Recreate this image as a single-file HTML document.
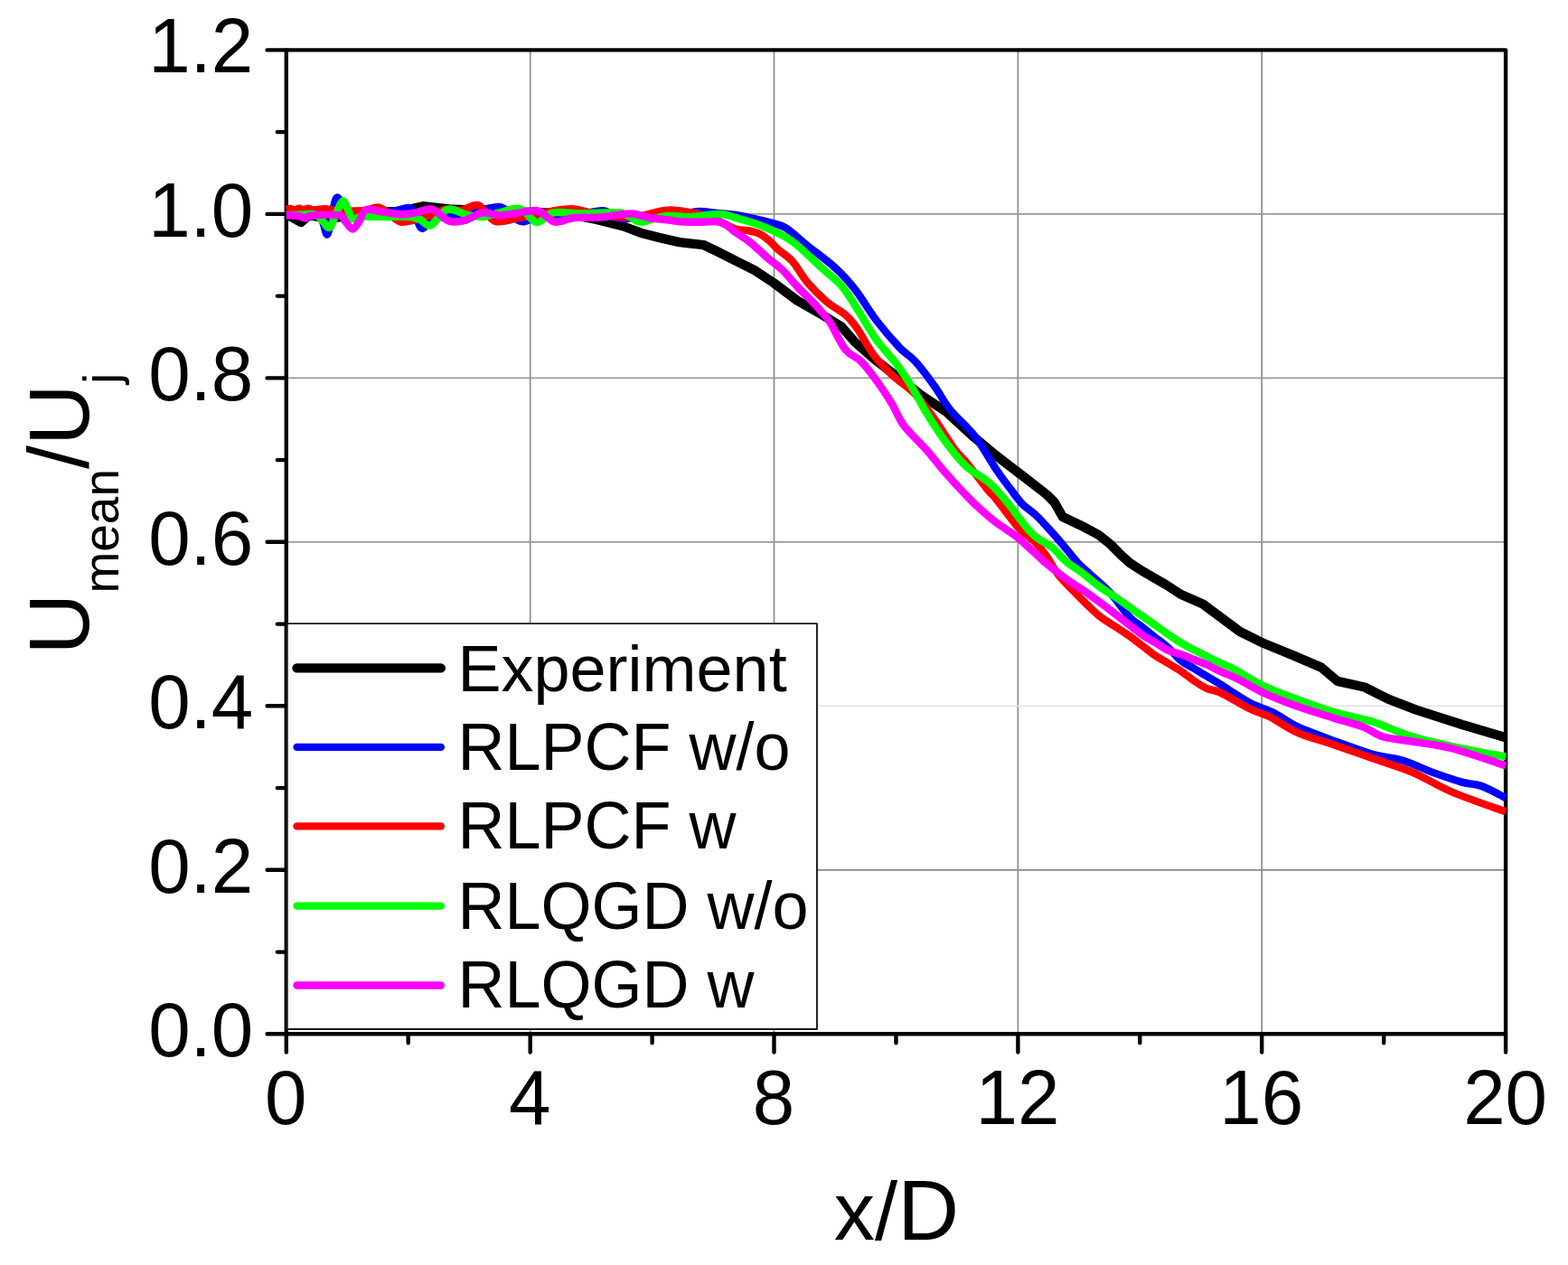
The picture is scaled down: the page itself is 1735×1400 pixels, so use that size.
<!DOCTYPE html>
<html><head><meta charset="utf-8"><title>U_mean/U_j vs x/D</title>
<style>
html,body{margin:0;padding:0;background:#fff;}
body{width:1735px;height:1400px;overflow:hidden;}
svg{display:block;}
text{font-family:"Liberation Sans",Arial,Helvetica,sans-serif;fill:#000;}
</style></head><body>
<svg width="1735" height="1400" viewBox="0 0 1735 1400">
<rect x="0" y="0" width="1735" height="1400" fill="#fff"/>
<g><line x1="586.7" y1="55.4" x2="586.7" y2="1144.3" stroke="#8f8f8f" stroke-width="1.8"/><line x1="856.5" y1="55.4" x2="856.5" y2="1144.3" stroke="#8f8f8f" stroke-width="1.8"/><line x1="1126.4" y1="55.4" x2="1126.4" y2="1144.3" stroke="#8f8f8f" stroke-width="1.8"/><line x1="1396.2" y1="55.4" x2="1396.2" y2="1144.3" stroke="#8f8f8f" stroke-width="1.8"/><line x1="316.8" y1="962.8" x2="1666.1" y2="962.8" stroke="#888" stroke-width="1.7"/><line x1="316.8" y1="781.3" x2="1666.1" y2="781.3" stroke="#e2e2e2" stroke-width="1.7"/><line x1="316.8" y1="599.9" x2="1666.1" y2="599.9" stroke="#999" stroke-width="1.7"/><line x1="316.8" y1="418.4" x2="1666.1" y2="418.4" stroke="#999" stroke-width="1.7"/><line x1="316.8" y1="236.9" x2="1666.1" y2="236.9" stroke="#999" stroke-width="1.7"/></g>
<g><rect x="316.8" y="55.4" width="1349.3" height="1088.9" fill="none" stroke="#000" stroke-width="4.4" stroke-linejoin="round"/><path d="M295.6 1144.3H316.8M295.6 962.8H316.8M295.6 781.3H316.8M295.6 599.8H316.8M295.6 418.4H316.8M295.6 236.9H316.8M295.6 55.4H316.8M306.8 1053.6H316.8M306.8 872.1H316.8M306.8 690.6H316.8M306.8 509.1H316.8M306.8 327.6H316.8M306.8 146.1H316.8M316.8 1144.3V1164.5M586.7 1144.3V1164.5M856.5 1144.3V1164.5M1126.4 1144.3V1164.5M1396.2 1144.3V1164.5M1666.1 1144.3V1164.5M451.7 1144.3V1154.3M721.6 1144.3V1154.3M991.5 1144.3V1154.3M1261.3 1144.3V1154.3M1531.2 1144.3V1154.3" stroke="#000" stroke-width="4.4" stroke-linecap="round" fill="none"/></g>
<g><path d="M316.8 237L324 241L333 246L342 238L352 240L365 241.5L378 240L395 235L420 234.5L445 234L460 230L468 228.2L497 231.4L515 232.3L543 233.7L580 234.6L620 236L640 239L660 243L690 250.5L709 257.7L729 262.9L752 268.1L779 271.2L794 278.5L814.5 288.8L835 299.2L856 313L882 332.5L910 348.6L931 361.4L946 378.6L968 397.8L996 419.3L1021 438.6L1047 455.7L1075 481.4L1102 504L1132 527L1157.8 547L1166.8 556L1175.8 572L1196.4 581.7L1215.7 592L1228.5 602.3L1241.4 615.1L1250 622.8L1264 632L1290 647L1307 658L1331 668.5L1372 699L1399 712.3L1431 725.4L1462 738.6L1480 753.9L1510 760.5L1536 773.6L1567 785.6L1618 802L1666.1 816.3" stroke="#000" stroke-width="10.4" fill="none" stroke-linejoin="round"/>
<path d="M316.8 234.5C319.8 234.6 329.2 234.8 335 235C340.8 235.2 347.8 233.7 351.5 235.4C355.2 237.1 355.2 241 357 245C358.8 249 360.4 260.2 362.1 259.4C363.8 258.6 365.2 246.8 367 240C368.8 233.2 370.2 220.3 372.7 218.8C375.2 217.3 378.6 227.9 382 230.8C385.4 233.7 388.3 235.5 393 236.4C397.7 237.3 403.9 236.2 410 236C416.1 235.8 422.7 236.4 429.9 235.4C437.1 234.4 448 229.1 453 229.9C458 230.7 457.6 236.2 460 240C462.4 243.8 464.3 253 467.4 253C470.5 253 473.6 242 478.5 240C483.4 238 489.2 241.9 496.9 241C504.6 240.1 515.4 236.5 524.6 234.5C533.8 232.5 545.6 228.6 552.3 229C559 229.4 560.7 234.3 565 237C569.3 239.7 572.4 245.1 578 245.3C583.6 245.5 591.4 238.9 598.4 238C605.4 237.1 613.1 240 620 240C626.9 240 632.1 239.1 640 238C647.9 236.9 659.9 232.5 667.6 233.2C675.3 233.9 678.9 240.9 686 242C693.1 243.1 701.8 240.6 710 240C718.2 239.4 728 238.6 735 238.3C742 238 745.7 238.7 752 238C758.3 237.3 766 234.2 773 233.9C780 233.6 787.1 235.2 794 235.9C800.9 236.6 807.7 236.9 814.5 238C821.3 239.1 828.1 240.6 835 242.2C841.9 243.8 850.2 245.6 856 247.3C861.8 249 863.9 248.5 870 252.5C876.1 256.5 883.7 264 892.9 271.4C902.1 278.8 916.1 288.9 925 297.1C933.9 305.3 938.9 311.1 946.4 320.7C953.9 330.3 961.8 344.3 970 355C978.2 365.7 988.6 377.5 995.7 385C1002.8 392.5 1006.4 392.9 1012.8 400C1019.2 407.1 1027.9 418.9 1034.3 427.8C1040.7 436.7 1043.9 444.3 1051.4 453.6C1058.9 462.9 1070.8 472.5 1079.3 483.6C1087.8 494.7 1096.4 510.7 1102.6 520C1108.8 529.3 1112 533.1 1116.7 539.3C1121.4 545.5 1125.7 551.9 1130.8 557.3C1135.9 562.6 1142 566 1147.6 571.4C1153.2 576.8 1158.9 583.4 1164.3 589.4C1169.7 595.4 1175 601.8 1179.7 607.4C1184.4 613 1187.6 617.6 1192.5 622.8C1197.4 627.9 1203.3 632.7 1209.3 638.3C1215.3 643.9 1221.7 648.8 1228.5 656.2C1235.3 663.7 1244 676.6 1250 683C1256 689.4 1259.5 690.5 1264.3 694.3C1269.1 698.1 1273.8 701.9 1278.6 705.7C1283.4 709.5 1288.2 712.8 1292.9 717.1C1297.7 721.4 1302.3 727.6 1307.1 731.4C1311.8 735.2 1316.6 737.1 1321.4 740C1326.2 742.9 1330.9 745.8 1335.7 748.6C1340.5 751.5 1342.1 752.2 1350 757.1C1357.9 762 1373.3 772.7 1383.2 778C1393.1 783.3 1400.7 784.5 1409.5 788.9C1418.3 793.3 1424.8 799.2 1435.8 804.3C1446.8 809.4 1461.3 814.5 1475.2 819.6C1489.1 824.7 1506.2 831.2 1519 834.9C1531.8 838.5 1541 838.2 1551.9 841.5C1562.9 844.8 1573.8 850.6 1584.7 854.6C1595.7 858.6 1608.5 863 1617.6 865.6C1626.7 868.2 1631.4 867.1 1639.5 870C1647.6 872.9 1661.7 880.9 1666.1 883.1" stroke="#0000ff" stroke-width="8.4" fill="none" stroke-linejoin="round"/>
<path d="M316.8 232C317.5 231.8 319.5 230.9 321 231C322.5 231.1 324.3 232.3 326 232.3C327.7 232.3 329.3 230.8 331 230.8C332.7 230.8 334.3 232.3 336 232.3C337.7 232.3 339.3 230.8 341 230.8C342.7 230.8 344.2 232.1 346 232.3C347.8 232.5 349.2 232.2 351.5 232C353.8 231.8 355.9 231 359.8 231.3C363.7 231.6 369.4 233.2 374.6 233.6C379.8 234 386.1 233.6 391.2 233.5C396.3 233.4 400.4 233.7 405 233C409.6 232.3 414.4 228.7 418.9 229.5C423.4 230.3 427.9 235.3 432 238C436.1 240.7 439.5 244.7 443.8 245.6C448.1 246.5 453.2 244.6 457.6 243.7C462 242.8 466.5 240.9 470 240C473.5 239.1 474.8 239.6 478.5 238.2C482.2 236.8 486.9 232.7 492.3 231.8C497.7 230.9 504.5 233.5 510.7 232.7C516.9 231.9 523.1 225.1 529.2 227.1C535.4 229.1 540.7 242.2 547.6 244.7C554.5 247.2 563.3 243.1 570.7 241.9C578.1 240.7 584.6 239.2 592 237.7C599.4 236.2 607.8 234.1 615 233C622.2 231.9 628.9 231 635.4 231.4C641.9 231.8 645.4 233.9 653.8 235.4C662.2 236.9 676.8 239.8 686 240.4C695.2 241 702.5 239.9 709 239C715.5 238.1 719.5 236.1 725 235C730.5 233.9 735.6 232.5 741.9 232.5C748.2 232.5 756.5 234 762.6 234.9C768.7 235.8 772.2 236.1 778.2 238C784.2 239.9 792.9 243.7 798.9 246.3C804.9 248.9 809.3 252.1 814.5 253.6C819.7 255.1 825.7 254.7 830 255.6C834.3 256.5 836.9 257.1 840.4 258.8C843.9 260.5 847.3 263.1 850.8 266C854.3 268.9 856.9 272.6 861.2 276.4C865.5 280.2 871.4 283.1 876.7 289C882 294.9 886.6 304.6 892.9 312C899.2 319.4 907.2 327.5 914.3 333.6C921.4 339.7 930 343.6 935.7 348.6C941.4 353.6 943.6 356.5 948.6 363.6C953.6 370.7 959.3 382.8 965.7 391.4C972.1 400 979.2 407.5 987.1 415C995 422.5 1004.9 428.2 1012.8 436.4C1020.7 444.6 1027.1 454.3 1034.3 464.3C1041.5 474.3 1049.5 488.1 1055.7 496.4C1061.9 504.7 1065.2 506.7 1071.4 514.3C1077.6 521.9 1088.1 536.2 1092.9 542.1C1097.7 548 1096.7 545.6 1100 549.6C1103.3 553.6 1108.2 560.3 1112.9 566.3C1117.6 572.3 1123 580 1128.3 585.6C1133.6 591.2 1140.1 594.8 1145 599.7C1149.9 604.6 1153.5 609.1 1157.8 615.1C1162.1 621.1 1165.8 629.3 1170.7 635.7C1175.6 642.1 1182.1 648.1 1187.4 653.7C1192.8 659.3 1197.7 664.2 1202.8 669.1C1207.9 674 1212.9 679.1 1218.3 683.2C1223.7 687.4 1229.7 690.5 1235 694C1240.3 697.5 1245.1 700.5 1250 704C1254.9 707.5 1259.5 711.4 1264.3 715C1269.1 718.6 1273.8 722.5 1278.6 725.7C1283.4 728.9 1288.2 731.4 1292.9 734.3C1297.7 737.2 1302.3 739.7 1307.1 742.9C1311.8 746.1 1316.6 750.4 1321.4 753.6C1326.2 756.8 1330.9 760 1335.7 762.1C1340.5 764.2 1342.1 762.7 1350 766.4C1357.9 770.1 1374 780 1383.2 784.5C1392.4 789 1396.3 788.9 1405.1 793.3C1413.9 797.7 1424.1 805.7 1435.8 810.8C1447.5 815.9 1461.3 819.2 1475.2 824C1489.1 828.8 1504.4 834.2 1519 839.3C1533.6 844.4 1548.2 848.4 1562.8 854.6C1577.4 860.8 1589.4 869.2 1606.6 876.5C1623.8 883.8 1656.2 894.8 1666.1 898.4" stroke="#ff0000" stroke-width="8.4" fill="none" stroke-linejoin="round"/>
<path d="M316.8 238C319.8 237.9 330 237.7 335 237.5C340 237.3 343.6 236.2 346.9 237C350.2 237.8 352.1 239.5 355 242C357.9 244.5 361.6 253 364.4 252C367.2 251 369.5 240.9 372 236C374.5 231.1 377 223.2 379.2 222.5C381.4 221.8 383.1 228.8 385 232C386.9 235.2 387.4 240.7 390.3 241.9C393.2 243.2 395.6 239.8 402.2 239.5C408.8 239.2 421.4 239.9 429.9 240C438.4 240.1 447.1 239.5 453 240C458.9 240.5 461.1 241.4 465 243C468.9 244.6 471.6 251.2 476.6 249.3C481.6 247.4 488.5 233.8 495 231.8C501.5 229.8 508.9 235.9 515.4 237.3C521.9 238.7 527.6 240.3 533.8 240C539.9 239.7 545.4 236.9 552.3 235.4C559.2 233.9 568.4 229.2 575.3 231C582.2 232.8 587.6 245.3 593.8 246C600 246.7 603.8 237 612.3 235.4C620.8 233.8 632.3 236.4 644.6 236.4C656.9 236.4 675.5 234 686 235.5C696.5 237 701.3 244.3 707.3 245.5C713.3 246.7 716.9 243.6 722 242.5C727.1 241.4 731.2 239.4 738 239C744.8 238.6 755 240.3 762.6 240.1C770.2 239.9 777.4 238.5 783.4 238C789.4 237.5 793.7 236.5 798.9 237C804.1 237.5 808.5 239.4 814.5 241.1C820.5 242.8 828.3 244.9 835.2 247.3C842.1 249.7 850.2 253 856 255.6C861.8 258.2 865.6 260.3 870 262.9C874.4 265.5 875.4 265.7 882.1 271.4C888.8 277.1 901.8 289.6 910 297.1C918.2 304.6 925 308.9 931.4 316.4C937.8 323.9 942.2 332.1 948.6 342.1C955 352.1 962.9 366.4 970 376.4C977.1 386.4 985 393.5 991.4 402.1C997.8 410.7 1002.9 418.5 1008.6 427.8C1014.3 437.1 1019.3 447.4 1025.7 457.8C1032.1 468.2 1039.9 480.4 1047.1 490C1054.2 499.6 1061.4 508.9 1068.6 515.7C1075.8 522.5 1084.8 526.8 1090 530.7C1095.2 534.6 1095.5 534.6 1100 539.3C1104.5 543.9 1111.4 552 1116.7 558.6C1122 565.2 1127.4 573.3 1132.1 579.1C1136.8 584.9 1139.6 588.8 1145 593.3C1150.4 597.8 1158.5 601.4 1164.3 606.1C1170.1 610.8 1174.3 617 1179.7 621.5C1185.1 626 1190.4 628.6 1196.4 633.1C1202.4 637.6 1209.3 643.8 1215.7 648.5C1222.1 653.2 1229.3 657.5 1235 661.4C1240.7 665.3 1243.9 667.7 1250 672C1256.1 676.3 1265.5 682.8 1271.4 687C1277.4 691.2 1280.9 693.8 1285.7 697.1C1290.5 700.5 1295.2 704 1300 707.1C1304.8 710.2 1309.5 713.1 1314.3 715.7C1319.1 718.3 1322.6 719.9 1328.6 722.9C1334.5 725.9 1343.8 730.6 1350 733.6C1356.2 736.6 1357.6 736.4 1365.7 740.7C1373.8 745 1387.6 754.1 1398.6 759.4C1409.5 764.7 1418.6 767.8 1431.4 772.5C1444.2 777.2 1460.6 783.4 1475.2 787.8C1489.8 792.2 1504.4 794.2 1519 798.8C1533.6 803.4 1546.4 810.3 1562.8 815.2C1579.2 820.1 1600.4 824.6 1617.6 828.3C1634.8 832 1658 836 1666.1 837.5" stroke="#00ff00" stroke-width="8.4" fill="none" stroke-linejoin="round"/>
<path d="M316.8 238C319 238.2 326.5 238.4 330 239C333.5 239.6 335.5 241.6 338 241.5C340.5 241.4 338.9 239.1 345 238.5C351.1 237.9 368.4 237.1 374.6 238.2C380.8 239.3 379.4 242.4 382 245C384.6 247.6 387.6 253.7 390.3 253.5C393 253.3 395.6 247.6 398 244C400.4 240.4 401.2 233.7 405 232C408.8 230.3 414.2 233.1 420.7 234C427.2 234.9 437.2 237.1 443.8 237.3C450.4 237.5 454.2 236.3 460 235.4C465.8 234.5 472.4 230.2 478.5 231.8C484.6 233.4 490.8 242.7 496.9 244.7C503 246.7 509.2 245.2 515.4 243.7C521.5 242.1 527.6 236.3 533.8 235.4C539.9 234.5 545.4 238.2 552.3 238.2C559.2 238.2 568.4 236.3 575.3 235.4C582.2 234.5 589.2 232.5 593.8 233C598.4 233.5 599.8 236.4 603 238.5C606.2 240.6 609.8 244.5 613 245.5C616.2 246.5 618.3 245.2 622 244.5C625.7 243.8 628.2 241.7 635 241C641.8 240.3 655.2 241 663 240.5C670.8 240 675.3 238.9 681.5 238.2C687.7 237.5 693.9 236 700 236.5C706.1 237 711.3 239.8 718 241C724.7 242.2 734.3 242.8 740 243.5C745.7 244.2 746.7 244.9 752.2 245.3C757.7 245.7 766.1 245.8 773 245.8C779.9 245.8 788.5 244.7 793.7 245.3C798.9 245.9 800.6 247.3 804.1 249.4C807.6 251.5 810.2 254.6 814.5 257.7C818.8 260.8 824.1 263.4 830 268.1C835.9 272.8 844 280.9 850 286C856 291.1 860.7 293.8 866 299C871.3 304.2 876.3 311 882 317C887.7 323 895.3 330.1 900 335C904.7 339.9 906.9 342.7 910 346.4C913.1 350.1 914.3 350.3 918.6 357.1C922.9 363.9 930 380 935.7 387.1C941.4 394.2 947.2 394.3 952.9 400C958.6 405.7 964.3 413.5 970 421.4C975.7 429.2 982.1 438.9 987.1 447.1C992.1 455.3 993.6 462.1 1000 470.7C1006.4 479.3 1017.9 489.7 1025.7 498.6C1033.5 507.5 1038.8 514.9 1047.1 524.3C1055.4 533.7 1066.9 546.3 1075.7 555C1084.5 563.7 1093.8 571.5 1100 576.6C1106.2 581.7 1108.6 582.6 1112.9 585.6C1117.2 588.6 1121.4 591.2 1125.7 594.6C1130 598 1133.9 601.8 1138.6 606.1C1143.3 610.4 1149.1 616 1154 620.3C1158.9 624.6 1163.2 627.9 1168.1 631.8C1173 635.6 1177.7 639.3 1183.5 643.4C1189.3 647.5 1196.4 651.7 1202.8 656.2C1209.2 660.7 1214.2 664.4 1222.1 670.4C1230 676.4 1243 686.6 1250 692C1257 697.4 1259.5 699.7 1264.3 702.9C1269.1 706.1 1273.8 708.5 1278.6 711.4C1283.4 714.2 1288.2 717.9 1292.9 720C1297.7 722.1 1302.3 722.6 1307.1 724.3C1311.8 726 1316.6 728.1 1321.4 730C1326.2 731.9 1330.9 733.6 1335.7 735.7C1340.5 737.9 1344.3 740.2 1350 742.9C1355.7 745.6 1362 747.7 1370.1 751.7C1378.2 755.7 1388.4 762.2 1398.6 767C1408.8 771.8 1418.6 775.6 1431.4 780.2C1444.2 784.8 1462.4 790.4 1475.2 794.4C1488 798.4 1499 800.8 1508.1 804.3C1517.2 807.8 1520.9 812.5 1530 815.2C1539.1 817.9 1550 818.5 1562.8 820.7C1575.6 822.9 1589.4 823.8 1606.6 828.3C1623.8 832.8 1656.2 844.3 1666.1 847.5" stroke="#ff00ff" stroke-width="8.4" fill="none" stroke-linejoin="round"/></g>
<g><text transform="translate(280.2 1169.3) scale(1 1.03)" font-size="83.5" text-anchor="end">0.0</text><text transform="translate(280.2 987.8) scale(1 1.03)" font-size="83.5" text-anchor="end">0.2</text><text transform="translate(280.2 806.3) scale(1 1.03)" font-size="83.5" text-anchor="end">0.4</text><text transform="translate(280.2 624.8) scale(1 1.03)" font-size="83.5" text-anchor="end">0.6</text><text transform="translate(280.2 443.4) scale(1 1.03)" font-size="83.5" text-anchor="end">0.8</text><text transform="translate(280.2 261.9) scale(1 1.03)" font-size="83.5" text-anchor="end">1.0</text><text transform="translate(280.2 80.4) scale(1 1.03)" font-size="83.5" text-anchor="end">1.2</text><text transform="translate(316.3 1244) scale(1 1.03)" font-size="83.5" text-anchor="middle">0</text><text transform="translate(586.2 1244) scale(1 1.03)" font-size="83.5" text-anchor="middle">4</text><text transform="translate(856 1244) scale(1 1.03)" font-size="83.5" text-anchor="middle">8</text><text transform="translate(1125.9 1244) scale(1 1.03)" font-size="83.5" text-anchor="middle">12</text><text transform="translate(1395.7 1244) scale(1 1.03)" font-size="83.5" text-anchor="middle">16</text><text transform="translate(1665.6 1244) scale(1 1.03)" font-size="83.5" text-anchor="middle">20</text></g>
<text x="992" y="1371.8" font-size="90.5" text-anchor="middle">x/<tspan font-size="94">D</tspan></text>
<text transform="translate(98 724.5) rotate(-90)" font-size="94">U<tspan font-size="55" dy="33">mean</tspan><tspan dy="-33">/U</tspan><tspan font-size="55" dy="33">j</tspan></text>
<g><rect x="317.8" y="690.1" width="586.2" height="448.9" fill="#fff" stroke="#1a1a1a" stroke-width="1.9" stroke-linejoin="round"/><line x1="328.5" y1="739.4" x2="487.8" y2="739.4" stroke="#000" stroke-width="10.4" stroke-linecap="round"/><text x="506.5" y="764.6" font-size="72">Experiment</text><line x1="328.5" y1="826.9" x2="487.8" y2="826.9" stroke="#0000ff" stroke-width="8.4" stroke-linecap="round"/><text transform="translate(506.5 852.2) scale(1 1.03)" font-size="72">RLPCF w/o</text><line x1="328.5" y1="914.4" x2="487.8" y2="914.4" stroke="#ff0000" stroke-width="8.4" stroke-linecap="round"/><text transform="translate(506.5 938.8) scale(1 1.03)" font-size="72">RLPCF w</text><line x1="328.5" y1="1002.6" x2="487.8" y2="1002.6" stroke="#00ff00" stroke-width="8.4" stroke-linecap="round"/><text transform="translate(506.5 1027.8) scale(1 1.03)" font-size="72">RLQGD w/o</text><line x1="328.5" y1="1090.5" x2="487.8" y2="1090.5" stroke="#ff00ff" stroke-width="8.4" stroke-linecap="round"/><text transform="translate(506.5 1114.9) scale(1 1.03)" font-size="72">RLQGD w</text></g>
</svg>
</body></html>
